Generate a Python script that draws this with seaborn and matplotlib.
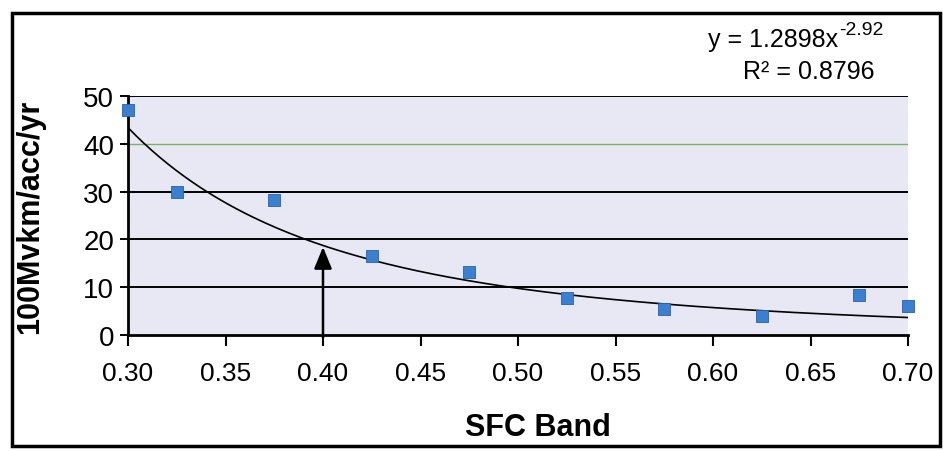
import numpy as np
import pandas as pd
import matplotlib
matplotlib.use("Agg")
import matplotlib.pyplot as plt
import seaborn as sns
from matplotlib.patches import Rectangle

# SFC band vs accident rate
sfc_band = [0.300, 0.325, 0.375, 0.425, 0.475, 0.525, 0.575, 0.625, 0.675, 0.700]
acc_rate = [47.1, 30.0, 28.3, 16.6, 13.1, 7.7, 5.4, 4.0, 8.4, 6.1]

# power-law trend line shown on the chart
fit_a = 1.2898
fit_b = -2.92
fit_r2 = 0.8796

x_ticks = [0.30, 0.35, 0.40, 0.45, 0.50, 0.55, 0.60, 0.65, 0.70]
y_ticks = [0, 10, 20, 30, 40, 50]
arrow_x = 0.40
arrow_top = 19.0

sns.set_theme(style="white")
plt.rcParams["font.family"] = ["Liberation Sans", "DejaVu Sans"]
plt.rcParams["text.color"] = "black"
plt.rcParams["axes.labelcolor"] = "black"
plt.rcParams["xtick.color"] = "black"
plt.rcParams["ytick.color"] = "black"

df = pd.DataFrame({"sfc": sfc_band, "rate": acc_rate})
xs = np.linspace(min(sfc_band), max(sfc_band), 200)
trend = pd.DataFrame({"sfc": xs, "rate": fit_a * xs ** fit_b})

fig = plt.figure(figsize=(9.43, 4.52), dpi=100)
ax = fig.add_axes([128 / 943, 1 - 336 / 452, 780 / 943, 239 / 452])
ax.set_facecolor("#e7e8f3")

# horizontal gridlines (the 40 line is green in the original)
for yv in y_ticks[1:]:
    col = "#7fb069" if yv == 40 else "black"
    lw = 1.0 if yv == 40 else 1.4
    ax.axhline(yv, color=col, lw=lw, zorder=1)

sns.lineplot(data=trend, x="sfc", y="rate", ax=ax, color="black", lw=1.2, zorder=3)
sns.scatterplot(data=df, x="sfc", y="rate", ax=ax, marker="s", s=70,
                color="#3b7fd1", edgecolor="#2a5fa8", linewidth=0.6,
                zorder=4, clip_on=False)

ax.annotate("", xy=(arrow_x, arrow_top), xytext=(arrow_x, -1.2),
            arrowprops=dict(arrowstyle="-|>,head_length=1.1,head_width=0.45",
                            color="black", lw=1.8),
            annotation_clip=False, zorder=5)

ax.set_xlim(0.3, 0.7)
ax.set_ylim(0, 50)
ax.set_xticks(x_ticks)
ax.set_xticklabels([f"{v:.2f}" for v in x_ticks])
ax.set_yticks(y_ticks)
ax.tick_params(axis="x", direction="out", length=8, width=1.5, labelsize=19, pad=11,
               bottom=True, color="black", labelcolor="black")
ax.tick_params(axis="y", direction="out", length=6, width=1.4, labelsize=20, pad=4,
               left=True, color="black", labelcolor="black")

for side in ["top", "right"]:
    ax.spines[side].set_visible(False)
for side in ["left", "bottom"]:
    ax.spines[side].set_color("black")
    ax.spines[side].set_linewidth(2)

ax.set_xlabel("SFC Band", fontsize=22, fontweight="bold", color="black")
ax.set_ylabel("100Mvkm/acc/yr", fontsize=22, fontweight="bold", color="black")
ax.xaxis.set_label_coords(0.525, -0.322)
ax.yaxis.set_label_coords(-0.106, 0.5)

# trend line equation, exponent drawn as a small raised label
eq = fig.text(708 / 943, 1 - 40 / 452, f"y = {fit_a}x", fontsize=18,
              ha="left", va="center", color="black")
fig.add_artist(plt.Annotation(f"{fit_b}", xy=(1.0, 0.55), xycoords=eq,
                              xytext=(1, 0), textcoords="offset points",
                              fontsize=14, ha="left", va="bottom", color="black"))
fig.text(809 / 943, 1 - 72 / 452, f"R² = {fit_r2}", fontsize=18,
         ha="center", va="center", color="black")

# outer frame around the whole chart
fig.patches.append(Rectangle((12 / 943, 1 - 447 / 452), 928 / 943, 433 / 452,
                             transform=fig.transFigure, fill=False,
                             edgecolor="black", lw=2.5))

fig.savefig("out.png", dpi=100)
